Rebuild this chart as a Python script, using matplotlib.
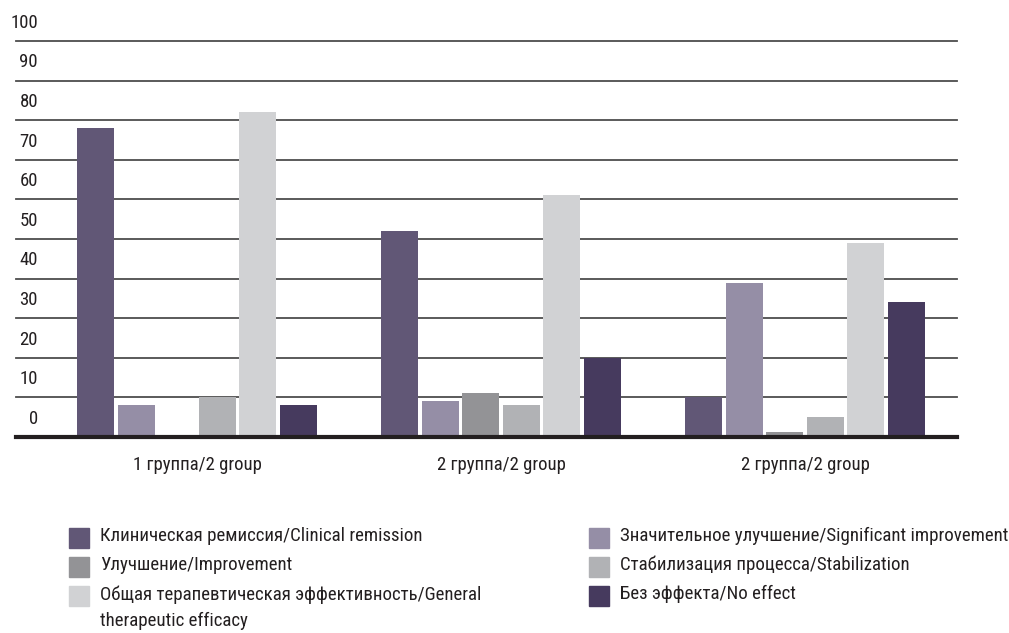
import matplotlib
matplotlib.use("Agg")
import matplotlib.pyplot as plt
from matplotlib.patches import Rectangle
import numpy as np

plt.rcParams['font.family'] = ['Roboto Condensed', 'DejaVu Sans']

# data
groups = ["1 группа/2 group", "2 группа/2 group", "2 группа/2 group"]
series = [
    "Клиническая ремиссия/Clinical remission",
    "Значительное улучшение/Significant improvement",
    "Улучшение/Improvement",
    "Стабилизация процесса/Stabilization",
    "Общая терапевтическая эффективность/General\ntherapeutic efficacy",
    "Без эффекта/No effect",
]
clinical = [78, 52, 10]
significant = [8, 9, 39]
improvement = [0, 11, 1.2]
stabilization = [10, 8, 5]
general = [82, 61, 49]
no_effect = [8, 20, 34]
values = [clinical, significant, improvement, stabilization, general, no_effect]
colors = ["#615776", "#958ea6", "#939396", "#b1b2b5", "#d1d2d4", "#463a5e"]
yticks = list(range(0, 101, 10))

fig = plt.figure(figsize=(10.09, 6.33), dpi=100)
ax = fig.add_axes([16 / 1009, (633 - 437) / 633, 941 / 1009, 396 / 633])

x = np.arange(len(groups)) * 7.5
offsets = np.arange(len(series)) - 2.5
for i, vals in enumerate(values):
    ax.bar(x + offsets[i], vals, width=0.91, color=colors[i], zorder=3)

ax.set_xlim(-4.47, 18.75)
ax.set_ylim(0, 100)
for v in yticks[1:]:
    ax.axhline(v, color="#4d4d4d", lw=1.3, zorder=1, clip_on=False)
ax.axhline(0, color="#231f20", lw=3, zorder=4, clip_on=False)

for s in ax.spines.values():
    s.set_visible(False)
ax.set_yticks([])
ax.set_xticks(x)
ax.set_xticklabels(groups, fontsize=13.5, color="#231f20")
ax.tick_params(axis="x", length=0, pad=14)

# y labels sit between the grid lines
for v in yticks:
    ax.text(0.0234, v + 4.6, str(v), transform=ax.get_yaxis_transform(),
            ha="right", va="center", fontsize=13.5, color="#231f20")

# legend, two columns
legend_order = [0, 2, 4, 1, 3, 5]
W, H = 1009, 633
for k, idx in enumerate(legend_order):
    col, row = divmod(k, 3)
    sx = 69 if col == 0 else 589
    cy = 538 + row * 29
    fig.patches.append(Rectangle((sx / W, 1 - (cy + 10) / H), 20 / W, 20 / H,
                                 transform=fig.transFigure, color=colors[idx]))
    fig.text((sx + 31) / W, 1 - (cy - 11) / H, series[idx], ha="left", va="top",
             fontsize=13.6, color="#231f20", linespacing=1.6)

fig.savefig("out.png", dpi=100)
